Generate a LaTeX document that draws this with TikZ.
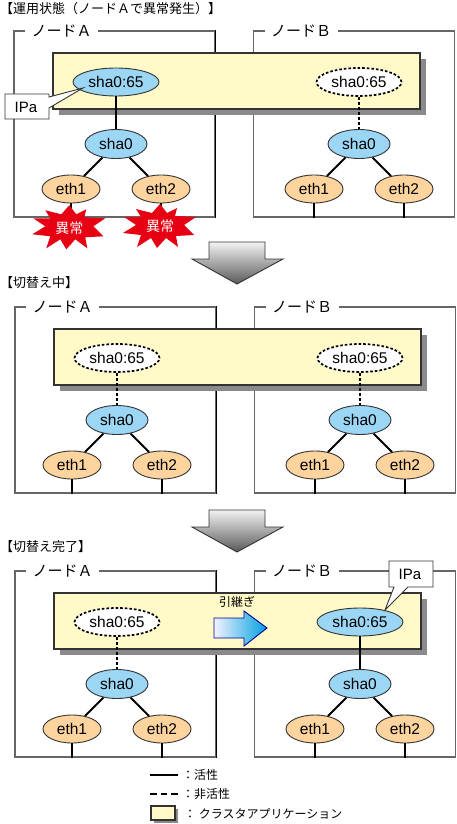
\documentclass[tikz,border=0pt]{standalone}
\usepackage{fontspec}
\setmainfont{Liberation Sans}
\newfontfamily\cjk{Noto Sans CJK JP}
\usepackage{tikz}
\usetikzlibrary{shapes.geometric}
\definecolor{appyellow}{HTML}{FFFAC8}
\definecolor{ipblue}{HTML}{9CD6F5}
\definecolor{ethorange}{HTML}{FDD49E}
\definecolor{shadegray}{HTML}{8A8A8A}
\definecolor{framegray}{HTML}{666666}
\definecolor{burstred}{HTML}{E60012}
\definecolor{arrowblue}{HTML}{00A0E0}
\tikzset{
	nodebox/.style={draw=framegray, line width=1.3pt, inner sep=0pt, minimum width=201pt, minimum height=186pt},
	boxtitle/.style={fill=white, inner sep=0pt, minimum width=73pt, minimum height=10pt, font=\fontsize{15}{15}\selectfont\cjk},
	appbox/.style={draw=black!80, line width=1.3pt, fill=appyellow, inner sep=0pt, minimum width=367pt, minimum height=56pt},
	ellnode/.style={ellipse, draw=black!80, line width=0.9pt, inner sep=0pt, font=\fontsize{15.5}{15.5}\selectfont},
	ipon/.style={ellnode, fill=ipblue, minimum width=86pt, minimum height=28pt},
	ipoff/.style={ellnode, draw=black, fill=white, line width=1.7pt, dash pattern=on 2.6pt off 2pt, minimum width=85pt, minimum height=28pt},
	shanode/.style={ellnode, fill=ipblue, minimum width=62pt, minimum height=29pt},
	ethnode/.style={ellnode, fill=ethorange, minimum width=58pt, minimum height=28pt},
	linkon/.style={black, line width=2pt},
	linkoff/.style={black, line width=2pt, dash pattern=on 3pt off 2pt},
	headtext/.style={anchor=west, inner sep=0pt, font=\fontsize{13}{13}\selectfont\cjk},
	legtext/.style={anchor=west, inner sep=0pt, font=\fontsize{12}{12}\selectfont\cjk},
	ipatext/.style={inner sep=0pt, font=\fontsize{15}{15}\selectfont},
	bursttext/.style={inner sep=0pt, text=white, font=\fontsize{14}{14}\selectfont\cjk},
	grayarrow/.style={draw=black!80, line width=0.9pt, top color=black!5, bottom color=black!65},
}
\begin{document}
\begin{tikzpicture}[x=1pt,y=-1pt]
	\useasboundingbox (0,0) rectangle (456,824);
	\foreach
	\px/\py/\pid/\statea/\stateb
	in
	{
		0/0/1/1/0,
		1/276/2/0/0,
		1/540/3/0/1%
	}
	{
		\begin{scope}[shift={(\px,\py)}]
		\node[nodebox] (boxa\pid) at (114.5,124) {};
		\node[nodebox] (boxb\pid) at (354,124) {};
		\draw[black, line width=0.9pt] (boxa\pid.north east) -- (boxa\pid.south east);
		\node[boxtitle] (titlea\pid) at (61.5,31) {ノードＡ};
		\node[boxtitle] (titleb\pid) at (301,31) {ノードＢ};
		\fill[shadegray] (59,59) rectangle (426,115);
		\node[appbox] (app\pid) at (236.5,81) {};
		\foreach \nx/\nid/\nstate in {116/a/\statea, 359/b/\stateb}
		{
			\node[shanode] (sha\pid\nid) at (\nx,144) {sha0};
			\node[ethnode] (etha\pid\nid) at (\nx-45,189) {eth1};
			\node[ethnode] (ethb\pid\nid) at (\nx+45,189) {eth2};
			\if\nstate1
			\node[ipon] (ip\pid\nid) at (\nx,82) {sha0:65};
			\draw[linkon] (ip\pid\nid) -- (sha\pid\nid);
			\else
			\node[ipoff] (ip\pid\nid) at (\nx,82) {sha0:65};
			\draw[linkoff] (ip\pid\nid) -- (sha\pid\nid);
			\fi
			\draw[linkon] (sha\pid\nid) -- (etha\pid\nid);
			\draw[linkon] (sha\pid\nid) -- (ethb\pid\nid);
			\draw[linkon] (etha\pid\nid) -- (etha\pid\nid.south |- box\nid\pid.south);
			\draw[linkon] (ethb\pid\nid) -- (ethb\pid\nid.south |- box\nid\pid.south);
		}
		\end{scope}
	}
	% headings
	\node[headtext] (heada) at (0,9) {【運用状態（ノードＡで異常発生）】};
	\node[headtext] (headb) at (0,283) {【切替え中】};
	\node[headtext] (headc) at (0,547) {【切替え完了】};
	% failures
	\foreach \bx/\by/\bid in {69.3/227.3/l, 160/226/r}
	{
		\fill[burstred, shift={(\bx,\by)}] (0,-22) -- (7,-13) -- (17,-18) -- (15,-10) -- (36,-9) -- (24,-1) -- (34,9) -- (16,10) -- (18,21) -- (6,12) -- (-3,22) -- (-9,12) -- (-23,21) -- (-19,9) -- (-37,7) -- (-24,-1) -- (-36,-9) -- (-19,-9) -- (-24,-17) -- (-8,-13) -- cycle;
		\node[bursttext] (burst\bid) at (\bx,\by+0.5) {異常};
	}
	% callouts
	\draw[draw=black!80, line width=0.9pt, fill=white] (5,94) -- (49,94) -- (49,97) -- (83,88) -- (49,108) -- (49,119) -- (5,119) -- cycle;
	\node[ipatext] (ipaa) at (26,107) {IPa};
	\draw[draw=black!80, line width=0.9pt, fill=white] (389,561) -- (433,561) -- (433,587) -- (408,587) -- (385,610) -- (394,587) -- (389,587) -- cycle;
	\node[ipatext] (ipab) at (410,574) {IPa};
	% block arrows
	\foreach \ay in {0,268}
	{
		\shadedraw[grayarrow] (209,242+\ay) -- (265,242+\ay) -- (265,259+\ay) -- (283,259+\ay) -- (237,284+\ay) -- (192,259+\ay) -- (209,259+\ay) -- cycle;
	}
	\shadedraw[draw=blue!60!black, line width=0.9pt, left color=blue!5, right color=arrowblue] (214,618) -- (244,618) -- (244,611) -- (267,628) -- (244,646) -- (244,638) -- (214,638) -- cycle;
	\node[legtext, anchor=center] (handover) at (237,602) {引継ぎ};
	% legend
	\coordinate (legaw) at (150,775);
	\coordinate (legae) at (178,775);
	\coordinate (legbw) at (150,794);
	\coordinate (legbe) at (178,794);
	\draw[linkon] (legaw) -- (legae);
	\draw[black, line width=2pt, dash pattern=on 6.6pt off 4pt] (legbw) -- (legbe);
	\fill[shadegray] (154,809) rectangle (178,823);
	\draw[draw=black!80, line width=1.2pt, fill=appyellow] (151,806) rectangle (175,820);
	\node[legtext] (legtexta) at (182,775) {：活性};
	\node[legtext] (legtextb) at (182,794) {：非活性};
	\node[legtext] (legtextc) at (184,814) {： クラスタアプリケーション};
\end{tikzpicture}
\end{document}
